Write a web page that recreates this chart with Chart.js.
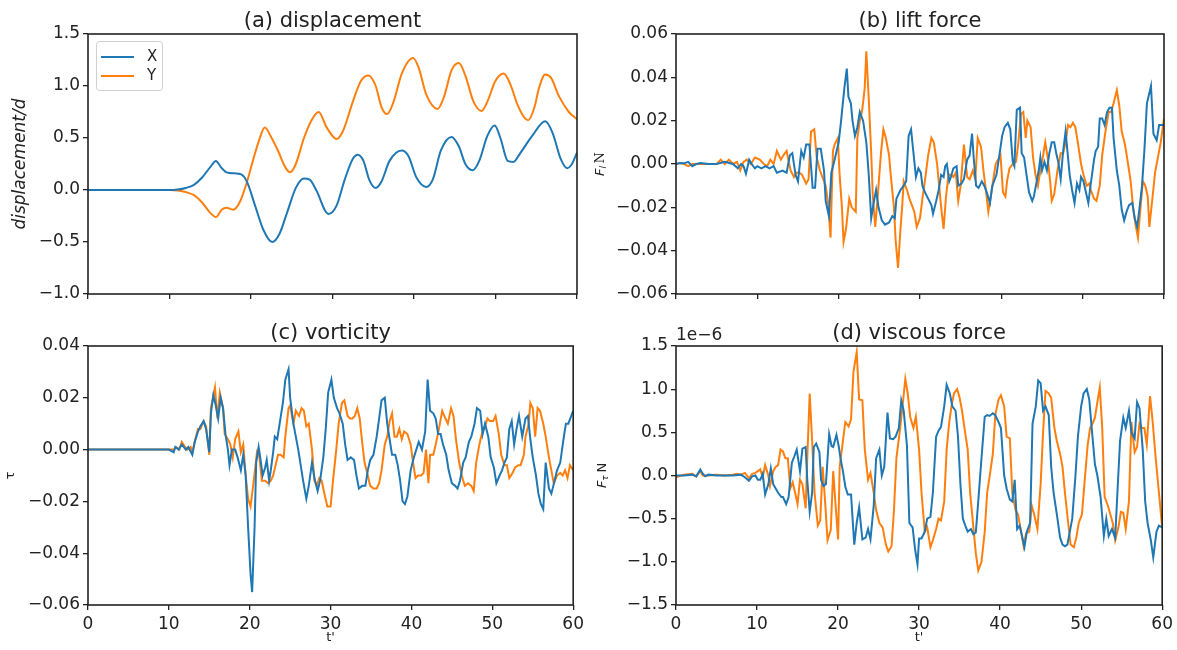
<!DOCTYPE html>
<html>
<head>
<meta charset="utf-8">
<script src="https://cdn.jsdelivr.net/npm/chart.js@4.4.1/dist/chart.umd.min.js"></script>
<style>
  body { margin: 0; background: #fff; width: 1177px; height: 650px; overflow: hidden; position: relative; }
  .panel { position: absolute; }
</style>
</head>
<body>
<div class="panel" style="left:0;top:0"><canvas id="chart-disp" width="588" height="312"></canvas></div>
<div class="panel" style="left:588px;top:0"><canvas id="chart-lift" width="589" height="312"></canvas></div>
<div class="panel" style="left:0;top:312px"><canvas id="chart-vort" width="588" height="338"></canvas></div>
<div class="panel" style="left:588px;top:312px"><canvas id="chart-visc" width="589" height="338"></canvas></div>
<script>
// [t', value] pairs
var dispX = [[0,0],[10,0],[11,0.005],[12,0.02],[13,0.05],[14,0.12],[15,0.22],[15.7,0.28],[16.3,0.22],[17,0.17],[18,0.16],[18.8,0.15],[19.5,0.08],[20.5,-0.15],[21.5,-0.38],[22.6,-0.5],[23.5,-0.42],[24.5,-0.2],[25.5,0.02],[26.5,0.11],[27.2,0.1],[28,0],[29.5,-0.23],[30.5,-0.15],[31.5,0.1],[32.5,0.3],[33.1,0.34],[33.8,0.28],[34.5,0.1],[35.3,0.02],[36,0.08],[37,0.28],[38.5,0.38],[39.3,0.33],[40.3,0.12],[41.5,0.03],[42.3,0.1],[43.3,0.38],[44.6,0.51],[45.5,0.42],[46.3,0.25],[47.2,0.19],[48,0.28],[49,0.52],[49.9,0.62],[50.6,0.5],[51.5,0.28],[52.2,0.27],[53,0.35],[54.5,0.52],[56.1,0.66],[57,0.55],[58,0.3],[58.8,0.21],[59.3,0.24],[60,0.36]];
var dispY = [[0,0],[10,0],[11,-0.005],[12,-0.02],[13,-0.05],[14,-0.12],[15,-0.22],[15.7,-0.26],[16.4,-0.19],[17,-0.17],[17.8,-0.19],[18.6,-0.12],[19.4,0.05],[20.3,0.3],[21,0.48],[21.7,0.6],[22.4,0.52],[23.3,0.38],[24.2,0.22],[24.8,0.17],[25.5,0.25],[26.5,0.5],[27.5,0.68],[28.3,0.75],[29.3,0.6],[30.5,0.49],[31.3,0.57],[32.5,0.85],[33.5,1.05],[34.4,1.1],[35.3,1.0],[36,0.8],[36.7,0.73],[37.5,0.85],[38.5,1.12],[39.9,1.27],[40.6,1.17],[41.5,0.92],[42.9,0.78],[43.7,0.9],[44.6,1.15],[45.5,1.22],[46.3,1.1],[47.3,0.85],[48.3,0.76],[49,0.85],[50,1.05],[51,1.12],[51.8,1.02],[52.7,0.82],[53.5,0.7],[54,0.67],[54.8,0.8],[55.3,0.97],[56.1,1.11],[56.8,1.08],[57.8,0.9],[59,0.75],[60,0.68]];

var liftX = [[0,0],[0.5,0.0005],[1,0.0003],[1.5,0.001],[2,-0.001],[2.5,0],[3,0.0005],[4,0],[5,0],[6,0.001],[7,0],[7.6,-0.002],[8,0],[8.3,-0.001],[8.6,-0.0045],[9,0.002],[9.3,0],[9.7,-0.002],[10,-0.001],[10.5,-0.002],[11,-0.001],[11.5,-0.002],[12,-0.001],[12.4,-0.004],[13.1,-0.003],[13.6,-0.004],[14,0.004],[14.3,0.005],[14.7,-0.005],[15,-0.008],[15.4,0.006],[15.7,0.003],[16,0.009],[16.4,0.009],[16.8,-0.011],[17.1,-0.011],[17.4,0.007],[17.8,0.007],[18.2,-0.003],[18.4,-0.017],[18.8,-0.024],[19.1,-0.004],[19.5,0.002],[20,0.01],[20.3,0.02],[20.7,0.035],[21,0.044],[21.2,0.031],[21.5,0.028],[21.7,0.02],[22,0.013],[22.3,0.017],[22.6,0.024],[23,0.02],[23.4,0.01],[23.7,-0.005],[24,-0.025],[24.3,-0.018],[24.6,-0.012],[24.9,-0.02],[25.3,-0.026],[25.7,-0.028],[26.2,-0.027],[26.6,-0.024],[26.9,-0.025],[27.1,-0.016],[27.6,-0.012],[28,-0.01],[28.3,-0.008],[28.6,0.013],[28.9,0.016],[29.2,0.005],[29.5,-0.006],[29.8,-0.002],[30.1,-0.004],[30.3,-0.01],[30.6,-0.013],[31,-0.016],[31.4,-0.019],[31.6,-0.023],[32,-0.017],[32.3,-0.012],[32.6,-0.005],[32.9,-0.006],[33.1,-0.001],[33.3,0],[33.6,-0.008],[33.8,-0.006],[34.1,-0.002],[34.5,-0.001],[34.7,-0.01],[35.1,-0.009],[35.4,-0.007],[35.8,0.002],[36.1,0.004],[36.4,0.014],[36.6,0.003],[36.9,-0.01],[37.2,-0.011],[37.6,-0.008],[37.9,-0.01],[38.2,-0.013],[38.6,-0.018],[38.9,-0.01],[39.4,-0.005],[39.8,0.005],[40.1,0.013],[40.4,0.017],[40.8,0.019],[41.1,0.016],[41.4,0.001],[41.6,-0.001],[41.9,0.025],[42.3,0.026],[42.5,0.005],[42.8,0.003],[43.1,-0.005],[43.4,-0.013],[43.8,-0.017],[44,-0.015],[44.4,-0.007],[44.6,-0.003],[44.8,0.003],[45,-0.003],[45.3,0.001],[45.6,-0.003],[45.9,0.005],[46.2,0.01],[46.5,0.01],[46.8,0.004],[47,0.001],[47.3,-0.007],[47.6,0.006],[47.9,0.015],[48.2,0.003],[48.4,-0.005],[48.7,-0.012],[49,-0.018],[49.3,-0.009],[49.6,-0.012],[49.8,-0.006],[50.1,-0.008],[50.4,-0.013],[50.7,-0.018],[51,-0.009],[51.4,0.002],[51.6,0.006],[51.9,0.008],[52.1,0.021],[52.4,0.021],[52.7,0.018],[53,0.024],[53.3,0.026],[53.6,0.026],[53.8,0.012],[54.2,-0.003],[54.5,-0.01],[54.8,-0.021],[55.1,-0.026],[55.4,-0.022],[55.7,-0.019],[56.1,-0.018],[56.4,-0.025],[56.7,-0.029],[57,-0.02],[57.3,-0.01],[57.6,0.007],[57.9,0.028],[58.4,0.036],[58.7,0.014],[59.1,0.011],[59.4,0.018],[60,0.018]];
var liftY = [[0,0],[0.5,0.0005],[1,0],[1.5,-0.001],[2,0],[3,0],[4,0],[5,0],[5.5,0.002],[6,0],[6.5,0.002],[7,0],[7.5,0.001],[7.9,-0.003],[8.3,0.001],[8.7,0.002],[9.2,0],[9.7,0.003],[10.3,0.002],[10.8,0],[11.2,-0.001],[11.6,0.002],[12,0],[12.4,0.006],[12.9,0.002],[13.2,0.004],[13.6,0.006],[13.8,0.002],[14.1,-0.003],[14.5,-0.006],[14.8,-0.004],[15.2,-0.004],[15.5,-0.005],[16,-0.009],[16.3,-0.007],[16.6,0.015],[17,0.016],[17.3,0.003],[17.7,-0.003],[18,-0.006],[18.4,-0.01],[18.7,-0.018],[19,-0.034],[19.3,0.006],[19.5,0.009],[19.9,0.012],[20.1,-0.004],[20.4,-0.02],[20.6,-0.036],[20.9,-0.03],[21.3,-0.016],[21.6,-0.02],[22.1,-0.022],[22.3,0.012],[22.6,0.02],[22.9,0.025],[23.2,0.035],[23.4,0.052],[23.7,0.03],[24,0.005],[24.2,-0.015],[24.5,-0.029],[24.8,-0.015],[25.2,0.005],[25.5,0.016],[25.8,0.012],[26.2,0.004],[26.4,-0.005],[26.8,-0.02],[27,-0.035],[27.3,-0.048],[27.6,-0.03],[27.8,-0.02],[28,-0.008],[28.4,-0.012],[28.7,-0.016],[29,-0.019],[29.3,-0.022],[29.6,-0.029],[30,-0.025],[30.3,-0.016],[30.7,-0.005],[31,0.004],[31.4,0.012],[31.7,0.01],[32.1,0],[32.4,-0.012],[32.6,-0.02],[32.9,-0.03],[33.2,-0.015],[33.5,-0.005],[33.8,-0.005],[34.1,-0.006],[34.4,-0.004],[34.7,-0.017],[35,-0.01],[35.4,0.009],[35.8,-0.006],[36.1,-0.007],[36.5,-0.003],[36.8,-0.007],[37.1,0.012],[37.5,0.008],[37.8,-0.003],[38.1,-0.012],[38.4,-0.022],[38.7,-0.015],[39.1,-0.005],[39.3,0],[39.6,0.002],[39.9,0.004],[40.2,-0.013],[40.5,-0.015],[40.7,-0.008],[41,-0.002],[41.4,0],[41.8,0.001],[42.1,0.01],[42.4,0.023],[42.7,0.024],[43,0.012],[43.2,0.02],[43.6,0.017],[43.9,0.003],[44.2,-0.005],[44.5,-0.01],[44.8,-0.003],[45.1,0.003],[45.4,0.01],[45.7,0.003],[46,-0.008],[46.2,-0.017],[46.5,-0.014],[46.9,-0.003],[47.3,0.005],[47.6,0.005],[47.9,0.01],[48.2,0.018],[48.5,0.017],[48.8,0.019],[49.1,0.017],[49.4,0.01],[49.8,0],[50.1,-0.005],[50.5,-0.01],[50.8,-0.009],[51,-0.012],[51.4,-0.016],[51.7,-0.017],[52.1,-0.01],[52.4,0.004],[52.8,0.015],[53.2,0.024],[53.5,0.024],[53.8,0.028],[54.2,0.034],[54.5,0.027],[54.8,0.015],[55.2,0.009],[55.5,0.002],[55.9,-0.008],[56.2,-0.02],[56.5,-0.028],[56.8,-0.034],[57,-0.025],[57.4,-0.008],[57.7,-0.01],[58,-0.015],[58.2,-0.029],[58.6,-0.015],[58.9,-0.004],[59.2,0.002],[59.6,0.01],[60,0.021]];

var vortX = [[0,0],[10,0],[10.6,-0.001],[10.8,0.001],[11.2,0],[11.6,0.002],[12.1,0],[12.4,0.001],[12.9,-0.002],[13.2,0.003],[13.6,0.007],[13.9,0.009],[14.3,0.011],[14.6,0.008],[15,-0.001],[15.2,0.014],[15.5,0.021],[15.8,0.017],[16.1,0.012],[16.4,0.02],[16.7,0.016],[17,0.006],[17.3,0],[17.5,-0.006],[17.8,0],[18.2,0],[18.5,-0.003],[18.9,-0.008],[19.2,-0.002],[19.5,-0.01],[19.8,-0.03],[20.1,-0.048],[20.3,-0.055],[20.6,-0.03],[20.8,-0.005],[21.1,0.001],[21.3,-0.003],[21.6,-0.01],[21.9,-0.007],[22.1,-0.004],[22.4,-0.012],[22.6,-0.008],[22.9,-0.001],[23.1,0.005],[23.4,0.004],[23.7,0.01],[24.1,0.018],[24.4,0.027],[24.8,0.031],[25,0.02],[25.4,0.01],[25.7,0.005],[26,0],[26.3,-0.006],[26.6,-0.012],[27,-0.019],[27.3,-0.014],[27.7,-0.005],[28,-0.011],[28.4,-0.016],[28.7,-0.012],[29.1,-0.003],[29.4,0.008],[29.7,0.022],[30.1,0.027],[30.4,0.02],[30.8,0.016],[31.1,0.014],[31.5,0.01],[31.8,0.002],[32.1,-0.004],[32.5,-0.003],[32.9,-0.004],[33.2,-0.01],[33.5,-0.015],[33.9,-0.014],[34.3,-0.014],[34.6,-0.008],[34.9,-0.004],[35.3,-0.002],[35.7,0.005],[36,0.012],[36.3,0.019],[36.7,0.02],[37,0.01],[37.3,0.004],[37.6,-0.002],[38,-0.002],[38.3,-0.006],[38.6,-0.012],[38.9,-0.02],[39.2,-0.021],[39.5,-0.018],[39.9,-0.008],[40.3,-0.003],[40.6,0],[40.9,0.003],[41.3,0],[41.7,0.007],[42,0.027],[42.3,0.015],[42.7,0.014],[43,0.012],[43.3,0.006],[43.6,0.006],[43.9,0.002],[44.3,-0.002],[44.6,-0.008],[45,-0.013],[45.4,-0.014],[45.7,-0.015],[46,-0.012],[46.4,-0.005],[46.7,-0.003],[47.1,0.003],[47.4,0.005],[47.8,0.01],[48.1,0.016],[48.5,0.015],[48.8,0.006],[49.1,0.01],[49.5,0.005],[49.8,-0.003],[50.2,-0.007],[50.5,-0.013],[50.9,-0.01],[51.2,-0.008],[51.5,-0.005],[51.8,-0.003],[52.1,0.008],[52.4,0.011],[52.7,0.002],[53,0.008],[53.3,0.013],[53.7,0.005],[54.1,0.012],[54.4,0.013],[54.7,0.004],[55,-0.003],[55.4,-0.01],[55.7,-0.017],[56,-0.021],[56.3,-0.023],[56.6,-0.005],[57,-0.015],[57.3,-0.017],[57.7,-0.012],[58,-0.008],[58.4,-0.005],[58.8,0.004],[59.1,0.01],[59.4,0.01],[60,0.015]];
var vortY = [[0,0],[10.6,0],[10.9,0.001],[11.3,0],[11.6,0.003],[12,0.001],[12.3,0],[12.7,0.001],[12.9,-0.001],[13.2,0.003],[13.6,0.008],[13.9,0.008],[14.3,0.011],[14.6,0.009],[15,-0.002],[15.2,0.016],[15.7,0.024],[16,0.012],[16.3,0.022],[16.7,0.016],[16.9,0.006],[17.3,0.004],[17.6,0.002],[17.9,-0.003],[18.2,0.004],[18.6,0.007],[18.9,-0.001],[19.2,0.002],[19.5,-0.01],[19.8,-0.019],[20.1,-0.022],[20.5,-0.012],[20.9,-0.001],[21.2,-0.003],[21.5,-0.012],[21.9,-0.012],[22.3,-0.013],[22.6,-0.012],[22.9,-0.01],[23.2,-0.006],[23.5,-0.002],[23.8,-0.002],[24.2,-0.003],[24.4,0.005],[24.8,0.016],[25,0.017],[25.4,0.01],[25.7,0.015],[26.1,0.013],[26.4,0.016],[26.7,0.015],[27,0.009],[27.3,0.01],[27.7,0],[28,-0.012],[28.3,-0.014],[28.6,-0.011],[28.9,-0.012],[29.3,-0.018],[29.6,-0.022],[30,-0.022],[30.3,-0.012],[30.7,0],[31,0.01],[31.4,0.018],[31.7,0.019],[32.1,0.013],[32.4,0.012],[32.7,0.012],[33,0.013],[33.3,0.016],[33.6,0.012],[33.9,0.003],[34.2,-0.005],[34.6,-0.01],[34.9,-0.014],[35.3,-0.015],[35.7,-0.015],[36,-0.013],[36.3,-0.008],[36.7,0.002],[37,0.005],[37.3,0.011],[37.6,0.014],[37.9,0.005],[38.2,0.005],[38.5,0.008],[38.8,0.004],[39.1,0.007],[39.5,0.006],[39.9,0.002],[40.2,-0.005],[40.5,-0.011],[40.8,-0.01],[41.2,-0.01],[41.5,-0.009],[41.8,0],[42.1,-0.013],[42.3,-0.002],[42.7,-0.002],[43,0.002],[43.4,0.008],[43.8,0.015],[44.2,0.012],[44.5,0.01],[44.9,0.016],[45.2,0.013],[45.5,0.004],[45.9,-0.005],[46.3,-0.011],[46.6,-0.014],[47,-0.013],[47.4,-0.014],[47.7,-0.016],[48,-0.005],[48.4,0.002],[48.7,0.006],[49.1,0.009],[49.4,0.012],[49.7,0.011],[50.1,0.011],[50.4,0.013],[50.8,0.006],[51.1,-0.002],[51.5,-0.006],[51.8,-0.006],[52.1,-0.011],[52.5,-0.009],[52.8,-0.007],[53.2,-0.006],[53.5,-0.006],[53.9,-0.002],[54.1,0.005],[54.5,0.01],[54.7,0.018],[55,0.016],[55.3,0.005],[55.6,0.016],[55.9,0.015],[56.3,0.01],[56.6,0.005],[57,-0.003],[57.3,-0.008],[57.6,-0.013],[58,-0.01],[58.4,-0.009],[58.7,-0.01],[59,-0.008],[59.3,-0.011],[59.6,-0.006],[60,-0.008]];

// viscous force, in units of 1e-6 N
var viscX = [[0,0],[1,0],[2,0.01],[2.5,-0.01],[3,0.07],[3.3,0.02],[3.6,-0.01],[4,0.01],[5,0],[6,0],[7,0],[8,0.01],[8.5,-0.02],[9,-0.06],[9.4,-0.01],[9.8,0],[10.1,-0.05],[10.4,-0.05],[10.7,0.02],[11,-0.22],[11.4,-0.1],[11.7,0.08],[12,-0.1],[12.3,-0.15],[12.6,-0.2],[13,-0.25],[13.2,-0.25],[13.6,-0.33],[13.9,-0.25],[14.3,0.15],[14.6,0.22],[14.9,0.3],[15.3,0.05],[15.6,0.31],[16,0.33],[16.2,-0.05],[16.5,-0.42],[16.8,-0.2],[17,0.33],[17.3,0.37],[17.7,0.27],[17.9,-0.05],[18.2,-0.12],[18.5,-0.1],[18.9,0.48],[19.2,0.34],[19.4,0.33],[19.8,0.47],[20.1,0.33],[20.3,0.2],[20.6,0.05],[20.9,-0.13],[21.2,-0.22],[21.6,-0.22],[22,-0.8],[22.3,-0.55],[22.6,-0.37],[23,-0.74],[23.4,-0.72],[23.7,-0.62],[24,-0.74],[24.4,-0.35],[24.7,0.2],[25.1,0.3],[25.4,0],[25.7,0.1],[26.1,0.73],[26.4,0.43],[26.8,0.42],[27.1,0.45],[27.5,0.55],[27.8,0.87],[28.1,0.75],[28.5,0.35],[28.8,-0.55],[29.2,-0.6],[29.5,-0.85],[29.8,-1.03],[30,-0.73],[30.3,-0.73],[30.7,-0.65],[31,-0.5],[31.4,-0.48],[31.7,-0.2],[32.1,0.45],[32.4,0.52],[32.7,0.56],[33.1,0.8],[33.4,1.05],[33.8,0.95],[34.1,0.8],[34.5,0.75],[34.8,0.45],[35.1,-0.1],[35.4,-0.5],[35.7,-0.58],[36,-0.65],[36.4,-0.62],[36.7,-0.68],[37,-0.66],[37.3,-0.3],[37.7,0.2],[38.1,0.68],[38.4,0.7],[38.7,0.69],[39.1,0.72],[39.4,0.7],[39.8,0.62],[40.1,0.55],[40.5,0],[40.8,-0.15],[41.2,-0.28],[41.5,-0.3],[41.8,-0.05],[42.1,-0.62],[42.4,-0.58],[42.7,-0.7],[43,-0.83],[43.3,-0.65],[43.7,-0.55],[44,0.6],[44.4,0.8],[44.7,1.1],[45,1.07],[45.3,0.75],[45.6,0.8],[46,0.7],[46.3,0.1],[46.6,-0.2],[47,-0.45],[47.4,-0.72],[47.7,-0.8],[48,-0.82],[48.3,-0.8],[48.6,-0.65],[48.9,-0.5],[49.3,0],[49.6,0.45],[50,0.8],[50.3,0.95],[50.7,1.0],[51,0.88],[51.3,0.55],[51.7,0.13],[52,0],[52.4,-0.25],[52.8,-0.7],[53.1,-0.5],[53.4,-0.7],[53.8,-0.62],[54.2,-0.72],[54.5,-0.15],[54.8,0.4],[55.2,0.67],[55.5,0.55],[55.9,0.75],[56.2,0.5],[56.6,0.43],[56.9,0.85],[57.2,0.78],[57.6,0.3],[57.9,-0.3],[58.2,-0.55],[58.6,-0.75],[58.9,-0.95],[59.3,-0.65],[59.6,-0.58],[60,-0.6]];
var viscY = [[0,-0.02],[1,0.01],[2,0.02],[2.5,-0.01],[3,0.05],[3.3,0],[4,0],[5,0.01],[6,0],[7,0.01],[7.5,0.02],[8,0.01],[8.5,0.03],[9,-0.03],[9.4,0.02],[9.8,0.03],[10.1,0.05],[10.4,0.07],[10.7,-0.02],[11,0.12],[11.4,0],[11.6,-0.12],[12,0.05],[12.3,0.1],[12.6,0.12],[12.9,0.3],[13.2,0.28],[13.5,0.2],[13.8,0.2],[14.1,-0.15],[14.4,-0.08],[14.7,-0.2],[15,-0.33],[15.3,-0.05],[15.6,-0.1],[16,-0.38],[16.2,0.2],[16.5,0.95],[16.8,0.4],[17.1,-0.2],[17.5,-0.58],[17.8,-0.52],[18.1,0.1],[18.4,-0.3],[18.7,-0.75],[19.1,-0.63],[19.4,0.05],[19.7,-0.35],[20,-0.74],[20.2,0.1],[20.6,0.4],[20.9,0.62],[21.3,0.57],[21.6,0.65],[21.9,1.2],[22.3,1.43],[22.6,0.88],[23,0.87],[23.3,0.3],[23.7,-0.05],[24,0.03],[24.4,-0.2],[24.7,-0.4],[25.1,-0.55],[25.5,-0.6],[25.9,-0.8],[26.2,-0.88],[26.6,-0.82],[26.9,-0.4],[27.2,0.2],[27.6,0.5],[27.9,0.75],[28.3,1.12],[28.6,0.95],[28.9,0.68],[29.3,0.55],[29.6,0.68],[30,0.3],[30.3,-0.2],[30.7,-0.65],[31,-0.6],[31.4,-0.83],[31.7,-0.75],[32.1,-0.62],[32.4,-0.5],[32.7,-0.52],[33.1,-0.3],[33.4,0.3],[33.7,0.6],[34,0.8],[34.3,0.95],[34.7,1.0],[35,0.9],[35.3,0.75],[35.6,0.55],[36,0.3],[36.3,-0.2],[36.7,-0.6],[37,-0.9],[37.3,-1.1],[37.7,-1.0],[38.1,-0.65],[38.4,-0.2],[38.8,0.05],[39.1,0.25],[39.4,0.7],[39.8,0.88],[40.1,0.93],[40.5,0.8],[40.8,0.45],[41.2,0.43],[41.5,-0.2],[41.9,-0.4],[42.2,-0.45],[42.6,-0.65],[42.9,-0.82],[43.2,-0.67],[43.6,-0.65],[43.9,-0.35],[44.2,-0.45],[44.6,-0.62],[45,-0.1],[45.3,0.5],[45.6,0.98],[46,0.95],[46.3,0.9],[46.7,0.55],[47,0.4],[47.4,0.25],[47.7,0.1],[48,-0.2],[48.4,-0.55],[48.7,-0.8],[49.1,-0.83],[49.4,-0.72],[49.7,-0.55],[50.1,-0.45],[50.4,-0.1],[50.8,0.35],[51.1,0.55],[51.4,0.6],[51.7,0.67],[52,0.85],[52.3,1.02],[52.6,0.55],[52.9,-0.25],[53.3,-0.35],[53.6,-0.45],[53.9,-0.55],[54.2,-0.75],[54.6,-0.6],[54.9,-0.42],[55.2,-0.43],[55.5,-0.62],[55.9,-0.3],[56.2,0.62],[56.6,0.27],[56.9,0.33],[57.2,0.6],[57.5,0.55],[57.8,0.55],[58.1,0.36],[58.5,0.92],[58.8,0.65],[59.2,0.2],[59.6,-0.2],[60,-0.6]];

var seriesNames = ["X", "Y"];
var seriesColors = ["#1f77b4", "#ff7f0e"];
var xTickStep = 10;

var FONT = '"DejaVu Sans", sans-serif';
var INK = '#222';

function fmt(v, digits) {
    if (Math.abs(v) < 1e-9) v = 0;
    return v.toFixed(digits).replace('-', '\u2212');
}

// draws text pieces [text, style, dy] along a rotated or horizontal line, centred on (x, y)
function drawPieces(ctx, pieces, x, y, rotate) {
    ctx.save();
    ctx.translate(x, y);
    if (rotate) ctx.rotate(-Math.PI / 2);
    var total = 0;
    pieces.forEach(function(p) { ctx.font = p[1]; total += ctx.measureText(p[0]).width; });
    var cx = -total / 2;
    ctx.textAlign = 'left';
    ctx.textBaseline = 'middle';
    ctx.fillStyle = INK;
    pieces.forEach(function(p) {
        ctx.font = p[1];
        ctx.fillText(p[0], cx, p[2] || 0);
        cx += ctx.measureText(p[0]).width;
    });
    ctx.restore();
}

var decorPlugin = {
    id: 'decor',
    afterDraw: function(chart, args, opts) {
        var ctx = chart.ctx, a = chart.chartArea;
        ctx.save();
        // frame
        ctx.strokeStyle = INK;
        ctx.lineWidth = 1.6;
        ctx.strokeRect(a.left, a.top, a.right - a.left, a.bottom - a.top);
        // title
        ctx.fillStyle = INK;
        ctx.font = '21px ' + FONT;
        ctx.textAlign = 'center';
        ctx.textBaseline = 'alphabetic';
        ctx.fillText(opts.title, (a.left + a.right) / 2, a.top - 7);
        // y label
        drawPieces(ctx, opts.ylabel, a.left + opts.ylabelDx, (a.top + a.bottom) / 2, true);
        // x label
        if (opts.xlabel) drawPieces(ctx, opts.xlabel, (a.left + a.right) / 2, a.bottom + 33, false);
        // offset text
        if (opts.offset) {
            ctx.font = '17px ' + FONT;
            ctx.textAlign = 'left';
            ctx.textBaseline = 'alphabetic';
            ctx.fillText(opts.offset, a.left, a.top - 6);
        }
        // legend
        if (opts.legend) {
            var lx = a.left + 8, ly = a.top + 7, lw = 66, lh = 49;
            ctx.fillStyle = 'rgba(255,255,255,0.8)';
            ctx.strokeStyle = '#d0d0d0';
            ctx.lineWidth = 1;
            ctx.beginPath();
            ctx.roundRect(lx + 0.5, ly + 0.5, lw, lh, 3);
            ctx.fill();
            ctx.stroke();
            chart.data.datasets.forEach(function(ds, i) {
                var yy = ly + 16 + i * 19;
                ctx.strokeStyle = ds.borderColor;
                ctx.lineWidth = 2;
                ctx.beginPath();
                ctx.moveTo(lx + 5, yy);
                ctx.lineTo(lx + 38, yy);
                ctx.stroke();
                ctx.fillStyle = INK;
                ctx.font = '15px ' + FONT;
                ctx.textAlign = 'left';
                ctx.textBaseline = 'middle';
                ctx.fillText(ds.label, lx + 51, yy);
            });
        }
        ctx.restore();
    }
};

function makePanel(id, cfg) {
    var datasets = cfg.series.map(function(s, i) {
        return {
            label: seriesNames[i],
            data: s.map(function(p) { return { x: p[0], y: p[1] }; }),
            borderColor: seriesColors[i],
            borderWidth: 2,
            pointRadius: 0,
            fill: false,
            tension: 0,
            cubicInterpolationMode: cfg.smooth ? 'monotone' : 'default'
        };
    });
    return new Chart(document.getElementById(id), {
        type: 'line',
        data: { datasets: datasets },
        plugins: [decorPlugin],
        options: {
            responsive: false,
            animation: false,
            layout: { padding: cfg.padding },
            plugins: {
                legend: { display: false },
                tooltip: { enabled: false },
                decor: cfg.decor
            },
            scales: {
                x: {
                    type: 'linear', min: 0, max: 60,
                    ticks: {
                        stepSize: xTickStep, autoSkip: false, maxRotation: 0, padding: 4,
                        color: INK, font: { family: FONT, size: 17 },
                        callback: function(v) { return cfg.showX ? String(v) : ''; }
                    },
                    grid: { drawOnChartArea: false, drawTicks: true, tickLength: 5, color: INK, lineWidth: 1.3 },
                    border: { display: false },
                    afterFit: function(s) { s.height = cfg.showX ? 28 : 8; }
                },
                y: {
                    type: 'linear', min: cfg.yMin, max: cfg.yMax,
                    ticks: {
                        stepSize: cfg.yStep, autoSkip: false, padding: 3,
                        color: INK, font: { family: FONT, size: 17 },
                        callback: function(v) { return fmt(v, cfg.yDigits); }
                    },
                    grid: { drawOnChartArea: false, drawTicks: true, tickLength: 5, color: INK, lineWidth: 1.3 },
                    border: { display: false },
                    afterFit: function(s) { s.width = 70; }
                }
            }
        }
    });
}

var tPrime = [["t'", '13px ' + FONT, 0]];

makePanel('chart-disp', {
    series: [dispX, dispY], smooth: true,
    yMin: -1.0, yMax: 1.5, yStep: 0.5, yDigits: 1, showX: false,
    padding: { left: 18, top: 34, right: 11, bottom: 10 },
    decor: { title: '(a) displacement', legend: true, ylabelDx: -67,
             ylabel: [['displacement/d', 'italic 17px ' + FONT, 0]] }
});

makePanel('chart-lift', {
    series: [liftX, liftY],
    yMin: -0.06, yMax: 0.06, yStep: 0.02, yDigits: 2, showX: false,
    padding: { left: 18, top: 34, right: 13, bottom: 10 },
    decor: { title: '(b) lift force', ylabelDx: -75,
             ylabel: [['F', 'italic 13px ' + FONT, 0], ['l', 'italic 9px ' + FONT, 3], ['\u2009N', '13px "DejaVu Serif", serif', 0]] }
});

makePanel('chart-vort', {
    series: [vortX, vortY],
    yMin: -0.06, yMax: 0.04, yStep: 0.02, yDigits: 2, showX: true,
    padding: { left: 18, top: 34, right: 11, bottom: 17 },
    decor: { title: '(c) vorticity', ylabelDx: -77, xlabel: tPrime,
             ylabel: [['\u03c4', '13px ' + FONT, 0]] }
});

makePanel('chart-visc', {
    series: [viscX, viscY],
    yMin: -1.5, yMax: 1.5, yStep: 0.5, yDigits: 1, showX: true,
    padding: { left: 18, top: 34, right: 13, bottom: 17 },
    decor: { title: '(d) viscous force', ylabelDx: -73, xlabel: tPrime, offset: '1e\u22126',
             ylabel: [['F', 'italic 13px ' + FONT, 0], ['\u03c4', 'italic 9px ' + FONT, 3], ['\u2009N', '13px ' + FONT, 0]] }
});
</script>
</body>
</html>
